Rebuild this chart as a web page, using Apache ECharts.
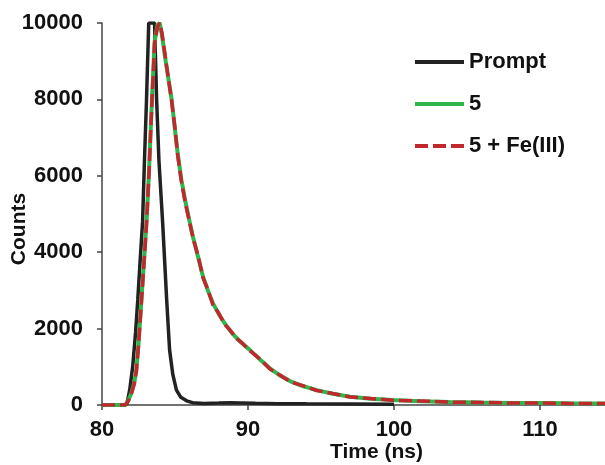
<!doctype html>
<html>
<head>
<meta charset="utf-8">
<script src="https://cdn.jsdelivr.net/npm/echarts@6/dist/echarts.min.js"></script>
<style>
* { margin: 0; padding: 0; }
#chart { width: 605px; height: 465px; }
</style>
</head>
<body>
<div id="chart"></div>
<script>
// x axis ticks / y axis ticks
var timeTicks = [80, 90, 100, 110];
var countTicks = [0, 2000, 4000, 6000, 8000, 10000];

// Prompt (instrument response)
var promptTime   = [80, 81.5, 81.7, 81.9, 82.1, 82.3, 82.45, 82.6, 82.78, 82.9, 83.05, 83.2, 83.6, 83.74, 83.9, 84.15, 84.3, 84.43, 84.63, 84.85, 85.1, 85.4, 85.8, 86.2, 87, 88, 88.8, 89.5, 90.5, 92, 94, 97, 100];
var promptCounts = [0, 0, 20, 400, 1000, 1900, 2750, 3700, 4800, 6300, 8000, 10000, 10000, 8000, 6400, 4800, 3700, 2750, 1440, 800, 390, 200, 110, 60, 40, 50, 60, 55, 45, 35, 30, 25, 20];

// 5
var dye5Time   = [80, 81, 81.6, 81.8, 82.0, 82.2, 82.35, 82.5, 82.7, 82.9, 83.05, 83.2, 83.4, 83.6, 83.8, 83.95, 84.1, 84.4, 84.77, 85.0, 85.18, 85.44, 85.7, 86.0, 86.23, 86.6, 86.92, 87.25, 87.6, 88.0, 88.4, 88.75, 89.15, 89.55, 90.1, 90.8, 91.5, 92.2, 92.9, 93.8, 94.7, 95.8, 97.0, 98.4, 99.9, 101.8, 103.8, 106, 108, 110, 112, 115];
var dye5Counts = [0, 0, 0, 120, 300, 560, 900, 1600, 2750, 3900, 4800, 5950, 7800, 9500, 9950, 10000, 9700, 8900, 8000, 7200, 6600, 5890, 5350, 4800, 4400, 3850, 3360, 3000, 2660, 2380, 2140, 1960, 1780, 1630, 1450, 1200, 960, 770, 620, 490, 390, 295, 215, 165, 130, 100, 80, 65, 55, 50, 45, 40];

// 5 + Fe(III)
var dyeFeTime   = dye5Time;
var dyeFeCounts = [0, 0, 0, 100, 280, 540, 880, 1550, 2700, 3850, 4750, 5900, 7750, 9450, 9900, 10000, 9750, 8950, 7950, 7250, 6550, 5850, 5300, 4780, 4380, 3880, 3330, 3020, 2620, 2400, 2110, 1970, 1760, 1640, 1430, 1210, 940, 780, 610, 500, 380, 300, 210, 170, 125, 105, 75, 68, 52, 50, 42, 40];

function pairs(xs, ys) {
	var out = [];
	for (var i = 0; i < xs.length; i++) out.push([xs[i], ys[i]]);
	return out;
}

var font = '"Liberation Sans", Arial, sans-serif';
var axisColor = '#444';
var labelStyle = { fontFamily: font, fontWeight: 'bold', fontSize: 22, color: '#111' };

var chart = echarts.init(document.getElementById('chart'));
chart.setOption({
	animation: false,
	grid: { left: 102, top: 23, bottom: 60, right: -8, containLabel: false, outerBoundsMode: 'none' },
	legend: {
		orient: 'vertical',
		left: 408,
		top: 46,
		itemWidth: 49,
		itemHeight: 22,
		itemGap: 20,
		itemTextGap: 6,
		itemStyle: { opacity: 0 },
		lineStyle: { width: 4 },
		textStyle: { fontFamily: font, fontWeight: 'bold', fontSize: 22, color: '#111', lineHeight: 22 },
		data: ['Prompt', '5', '5 + Fe(III)']
	},
	xAxis: {
		type: 'value',
		min: timeTicks[0],
		max: 115,
		interval: 10,
		name: 'Time (ns)',
		nameLocation: 'middle',
		nameGap: 37,
		nameMoveOverlap: false,
		nameTextStyle: { fontFamily: font, fontWeight: 'bold', fontSize: 21, color: '#111', padding: [0, 0, 0, 38] },
		axisLine: { lineStyle: { color: axisColor, width: 1.5 } },
		axisTick: { length: 5, lineStyle: { color: axisColor, width: 1.5 } },
		axisLabel: Object.assign({
			showMaxLabel: false,
			margin: 14,
			formatter: function (v) { return timeTicks.indexOf(v) >= 0 ? String(v) : ''; }
		}, labelStyle),
		splitLine: { show: false }
	},
	yAxis: {
		type: 'value',
		min: countTicks[0],
		max: countTicks[countTicks.length - 1],
		interval: 2000,
		name: 'Counts',
		nameLocation: 'middle',
		nameGap: 72,
		nameMoveOverlap: false,
		nameTextStyle: { fontFamily: font, fontWeight: 'bold', fontSize: 21, color: '#111', padding: [0, 30, 0, 0] },
		axisLine: { show: true, lineStyle: { color: axisColor, width: 1.5 } },
		axisTick: { show: true, length: 5, lineStyle: { color: axisColor, width: 1.5 } },
		axisLabel: Object.assign({
			margin: 19,
			formatter: function (v) { return String(v); }
		}, labelStyle),
		splitLine: { show: false }
	},
	series: [
		{
			name: 'Prompt', type: 'line', symbol: 'none',
			data: pairs(promptTime, promptCounts),
			lineStyle: { color: '#222', width: 3.5 }, itemStyle: { color: '#222' }, z: 2
		},
		{
			name: '5', type: 'line', symbol: 'none',
			data: pairs(dye5Time, dye5Counts),
			lineStyle: { color: '#2fb54a', width: 4 }, itemStyle: { color: '#2fb54a' }, z: 3
		},
		{
			name: '5 + Fe(III)', type: 'line', symbol: 'none',
			data: pairs(dyeFeTime, dyeFeCounts),
			lineStyle: { color: '#c1272d', width: 3.5, type: [13, 5] }, itemStyle: { color: '#c1272d' }, z: 4
		}
	]
});
</script>
</body>
</html>
